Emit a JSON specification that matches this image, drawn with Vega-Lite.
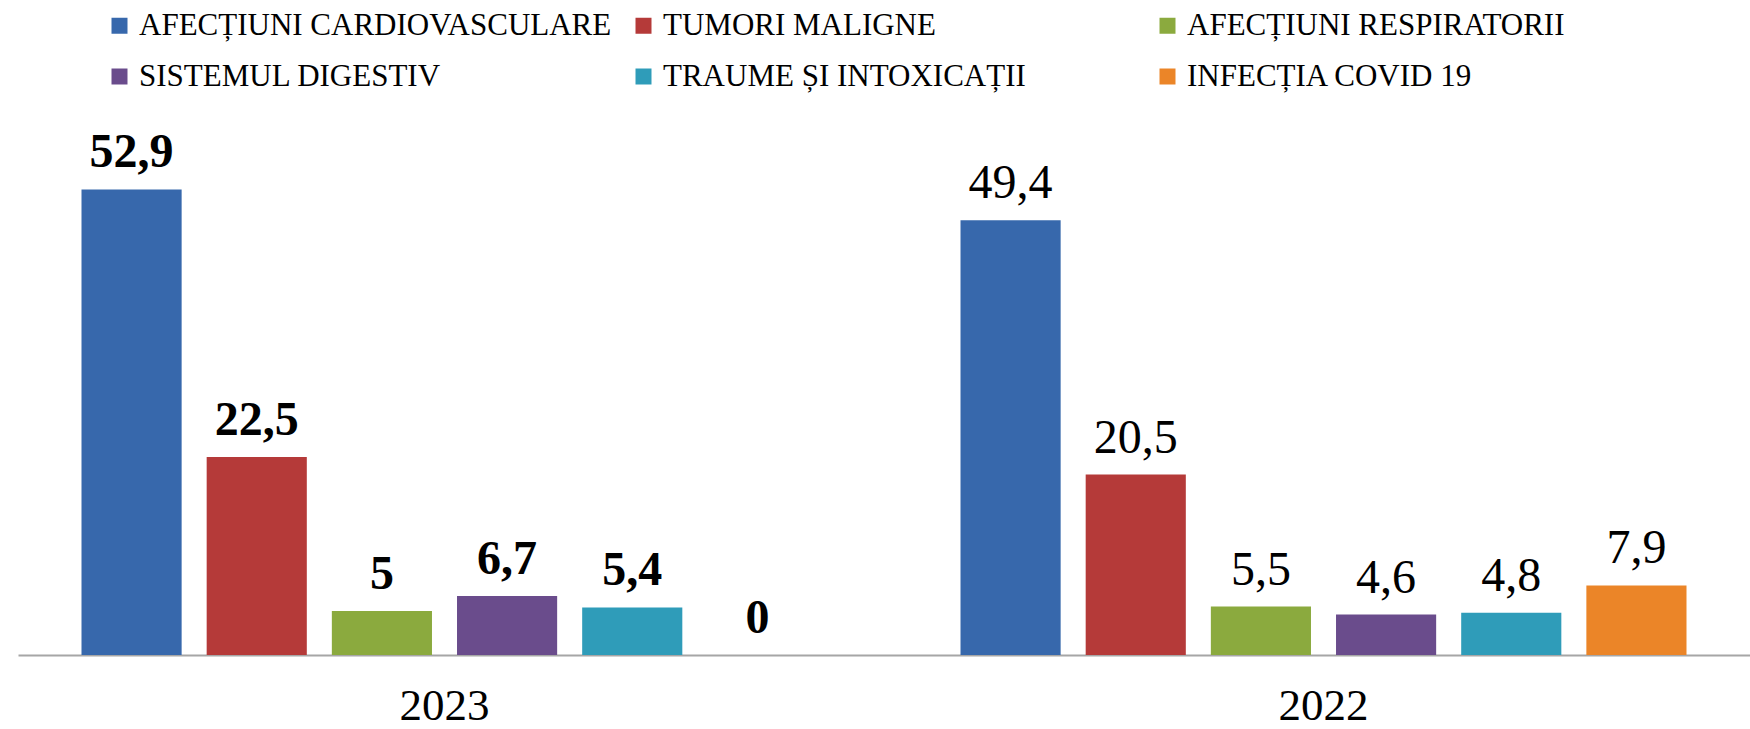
{
  "$schema": "https://vega.github.io/schema/vega-lite/v6.json",
  "width": 1732,
  "height": 528,
  "autosize": {"type": "none"},
  "padding": {"left": 18, "right": 0, "top": 127, "bottom": 74},
  "background": "white",
  "config": {
    "view": {"stroke": null},
    "font": "Liberation Serif",
    "legend": {"labelFont": "Liberation Serif"},
    "locale": {"number": {"decimal": ",", "thousands": ".", "grouping": [3], "currency": ["", ""]}}
  },
  "data": {
    "values": [
      {"an": "2023", "cauza": "AFECȚIUNI CARDIOVASCULARE", "valoare": 52.9},
      {"an": "2023", "cauza": "TUMORI MALIGNE", "valoare": 22.5},
      {"an": "2023", "cauza": "AFECȚIUNI RESPIRATORII", "valoare": 5},
      {"an": "2023", "cauza": "SISTEMUL DIGESTIV", "valoare": 6.7},
      {"an": "2023", "cauza": "TRAUME ȘI INTOXICAȚII", "valoare": 5.4},
      {"an": "2023", "cauza": "INFECȚIA COVID 19", "valoare": 0},
      {"an": "2022", "cauza": "AFECȚIUNI CARDIOVASCULARE", "valoare": 49.4},
      {"an": "2022", "cauza": "TUMORI MALIGNE", "valoare": 20.5},
      {"an": "2022", "cauza": "AFECȚIUNI RESPIRATORII", "valoare": 5.5},
      {"an": "2022", "cauza": "SISTEMUL DIGESTIV", "valoare": 4.6},
      {"an": "2022", "cauza": "TRAUME ȘI INTOXICAȚII", "valoare": 4.8},
      {"an": "2022", "cauza": "INFECȚIA COVID 19", "valoare": 7.9}
    ]
  },
  "encoding": {
    "x": {
      "field": "an",
      "type": "nominal",
      "sort": ["2023", "2022"],
      "scale": {"paddingInner": 0.1456, "paddingOuter": 0.058},
      "axis": {
        "title": null,
        "labelAngle": 0,
        "labelFontSize": 45,
        "labelFont": "Liberation Serif",
        "labelColor": "black",
        "labelPadding": 28,
        "ticks": false,
        "domainColor": "#A6A6A6",
        "domainWidth": 2
      }
    },
    "xOffset": {
      "field": "cauza",
      "type": "nominal",
      "sort": ["AFECȚIUNI CARDIOVASCULARE", "TUMORI MALIGNE", "AFECȚIUNI RESPIRATORII", "SISTEMUL DIGESTIV", "TRAUME ȘI INTOXICAȚII", "INFECȚIA COVID 19"],
      "scale": {"paddingInner": 0.2, "paddingOuter": 0.1}
    },
    "y": {
      "field": "valoare",
      "type": "quantitative",
      "scale": {"domain": [0, 60], "nice": false},
      "axis": null
    }
  },
  "layer": [
    {
      "mark": {"type": "bar"},
      "encoding": {
        "color": {
          "field": "cauza",
          "type": "nominal",
          "sort": ["AFECȚIUNI CARDIOVASCULARE", "TUMORI MALIGNE", "AFECȚIUNI RESPIRATORII", "SISTEMUL DIGESTIV", "TRAUME ȘI INTOXICAȚII", "INFECȚIA COVID 19"],
          "scale": {
            "domain": ["AFECȚIUNI CARDIOVASCULARE", "TUMORI MALIGNE", "AFECȚIUNI RESPIRATORII", "SISTEMUL DIGESTIV", "TRAUME ȘI INTOXICAȚII", "INFECȚIA COVID 19"],
            "range": ["#3768AC", "#B53A39", "#8BAA3E", "#6A4C8C", "#2F9CB9", "#EB8528"]
          },
          "legend": {
            "title": null,
            "orient": "none",
            "direction": "horizontal",
            "legendX": 86,
            "legendY": -117,
            "columns": 3,
            "gridAlign": "all",
            "symbolType": "square",
            "symbolSize": 256,
            "symbolStrokeWidth": 0,
            "labelFontSize": 31,
            "labelFont": "Liberation Serif",
            "labelColor": "black",
            "labelOffset": 4,
            "labelLimit": 1000,
            "columnPadding": 16,
            "rowPadding": 19
          }
        }
      }
    },
    {
      "transform": [{"filter": "datum.an == '2023'"}],
      "mark": {"type": "text", "baseline": "alphabetic", "dy": -22, "fontSize": 48, "fontWeight": "bold", "font": "Liberation Serif", "color": "black"},
      "encoding": {
        "text": {"field": "valoare", "type": "quantitative", "format": "~g"}
      }
    },
    {
      "transform": [{"filter": "datum.an == '2022'"}],
      "mark": {"type": "text", "baseline": "alphabetic", "dy": -22, "fontSize": 48, "fontWeight": "normal", "font": "Liberation Serif", "color": "black"},
      "encoding": {
        "text": {"field": "valoare", "type": "quantitative", "format": "~g"}
      }
    }
  ]
}
